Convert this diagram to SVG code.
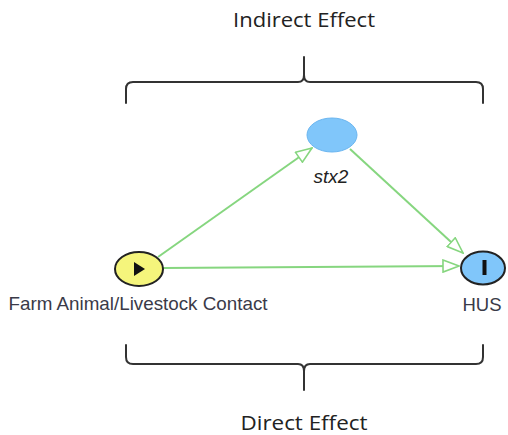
<svg xmlns="http://www.w3.org/2000/svg" width="508" height="435" viewBox="0 0 508 435">
<style>
.brace{fill:none;stroke:#333;stroke-width:2;stroke-linecap:round}
.cap{font-family:"Open Sans","Liberation Sans",sans-serif;font-size:20px;fill:#222;text-anchor:middle}
.lbl{font-family:"Liberation Sans",Arial,sans-serif;font-size:18.5px;fill:#3a3a48;text-anchor:middle}
.edge{fill:none;stroke:#86d67f;stroke-width:2}
</style>
<defs>
<marker id="ah" viewBox="0 0 18 14" refX="17" refY="7" markerWidth="18" markerHeight="14" markerUnits="userSpaceOnUse" orient="auto">
<path d="M1,1 L17,7 L1,13 Z" fill="#fff" stroke="#86d67f" stroke-width="1.6"/>
</marker>
</defs>
<g id="braces">
<path class="brace" d="M126,103 L126,89 Q126,82 133,82 L298,82 Q304,82 304,75 L304,57 M304,75 Q304,82 310,82 L476,82 Q483,82 483,89 L483,103"/>
<path class="brace" d="M126,345 L126,357 Q126,364 133,364 L298,364 Q304,364 304,371 L304,390 M304,371 Q304,364 310,364 L476,364 Q483,364 483,357 L483,345"/>
</g>
<text class="cap" x="304" y="27" textLength="142" lengthAdjust="spacingAndGlyphs">Indirect Effect</text>
<text class="cap" x="304" y="430" textLength="127" lengthAdjust="spacingAndGlyphs">Direct Effect</text>
<g id="connectors">
<path class="edge" d="M158,257 L312,148" marker-end="url(#ah)"/>
<path class="edge" d="M163,268 L459,266" marker-end="url(#ah)"/>
<path class="edge" d="M350,149 L463,253" marker-end="url(#ah)"/>
</g>
<g id="node-farm">
<ellipse cx="139" cy="269" rx="24" ry="17" fill="#f5f57c" stroke="#222" stroke-width="2"/>
<path d="M134,262 L145,269 L134,276 Z" fill="#111"/>
<text class="lbl" x="138" y="310" textLength="259" lengthAdjust="spacingAndGlyphs">Farm Animal/Livestock Contact</text>
</g>
<g id="node-stx2">
<ellipse cx="332" cy="135" rx="25" ry="17" fill="#80c6fa" stroke="#6cb6f0" stroke-width="1"/>
<text x="331" y="183" font-family="Liberation Sans,Arial,sans-serif" font-size="19" font-style="italic" fill="#222" text-anchor="middle">stx2</text>
</g>
<g id="node-hus">
<ellipse cx="483" cy="268" rx="22" ry="16.5" fill="#80c6fa" stroke="#222" stroke-width="2"/>
<rect x="482.5" y="260" width="4" height="15" fill="#111"/>
<text class="lbl" x="482" y="311">HUS</text>
</g>
</svg>
